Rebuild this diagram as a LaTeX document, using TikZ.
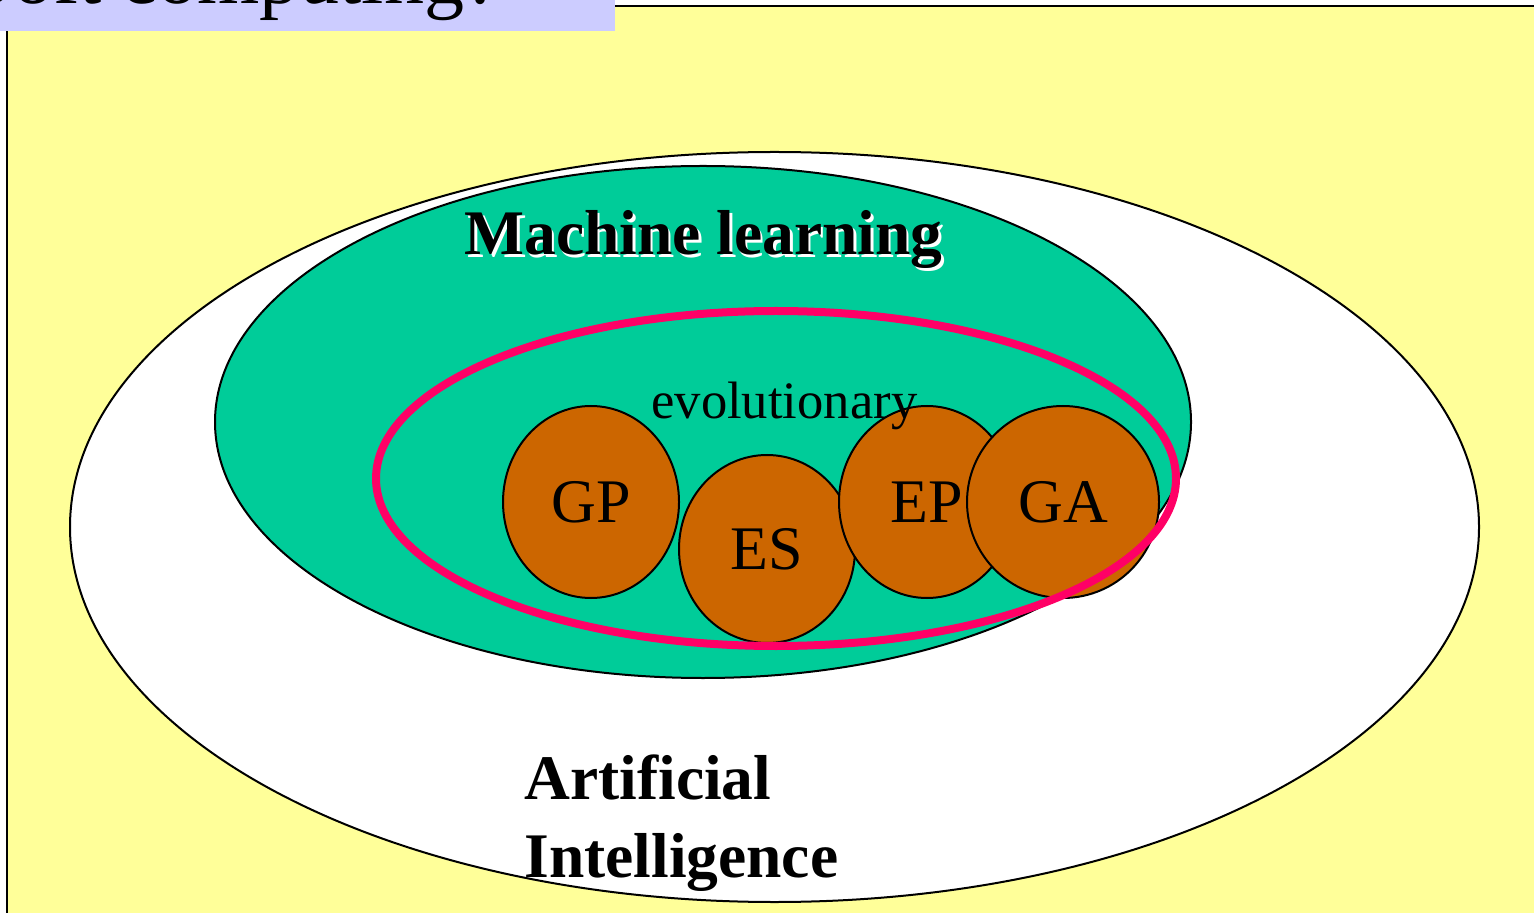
\documentclass[tikz,border=0pt]{standalone}
\usepackage{fontspec}
\setmainfont{Liberation Serif}
\usetikzlibrary{shapes.geometric}
\definecolor{slidebg}{HTML}{FFFF99}
\definecolor{titlebg}{HTML}{CCCCFF}
\definecolor{mlgreen}{HTML}{00CC99}
\definecolor{evopink}{HTML}{FF0066}
\definecolor{algo}{HTML}{CC6600}

\begin{document}
\begin{tikzpicture}[x=0.5pt,y=-0.5pt,
  region/.style={ellipse, draw=black, line width=1pt, inner sep=0pt},
  algorithm/.style={region, fill=algo, font=\fontsize{31}{36}\selectfont},
  heading/.style={font=\bfseries\fontsize{31.75}{39}\selectfont, inner sep=0pt},
]
\useasboundingbox (0,0) rectangle (1534,913);

% slide background with its frame
\fill[slidebg] (7,6) rectangle (1540,920);
\draw[line width=1pt] (7,920) -- (7,6) -- (1540,6);

% title strip
\fill[titlebg] (0,0) rectangle (615,31);
\begin{scope}
  \clip (0,0) rectangle (615,31);
  \node[anchor=base east, font=\fontsize{40}{48}\selectfont, inner sep=0pt] (title) at (500,3.5) {Soft computing?};
\end{scope}

% nested regions
\node[region, fill=white, minimum width=704.5pt, minimum height=375pt] (ai) at (774.5,527) {};
\node[region, fill=mlgreen, minimum width=488pt, minimum height=256pt] (ml) at (703,422) {};

% machine learning heading with its white shadow
\node[heading, white, anchor=base] (mlshadow) at (706,257.5) {Machine learning};
\node[heading, anchor=base] (mltext) at (703.5,255) {Machine learning};

% evolutionary algorithms
\node[algorithm, minimum width=88pt, minimum height=96pt] (gp) at (591,502) {GP};
\node[algorithm, minimum width=88pt, minimum height=94pt] (es) at (767,549) {ES};
\node[algorithm, minimum width=88pt, minimum height=96pt] (ep) at (927,502) {EP};
\node[algorithm, minimum width=96pt, minimum height=96pt] (ga) at (1063,502) {GA};

\node[anchor=base west, font=\fontsize{26.3}{32}\selectfont, inner sep=0pt] (evotext) at (651,419) {evolutionary};

% evolutionary computation boundary
\node[ellipse, draw=evopink, line width=4pt, inner sep=0pt, minimum width=400pt, minimum height=167.5pt] (evo) at (776,478.5) {};

% artificial intelligence label
\node[heading, anchor=north west, align=left] (aitext) at (524,754) {Artificial\\Intelligence};
\end{tikzpicture}
\end{document}
